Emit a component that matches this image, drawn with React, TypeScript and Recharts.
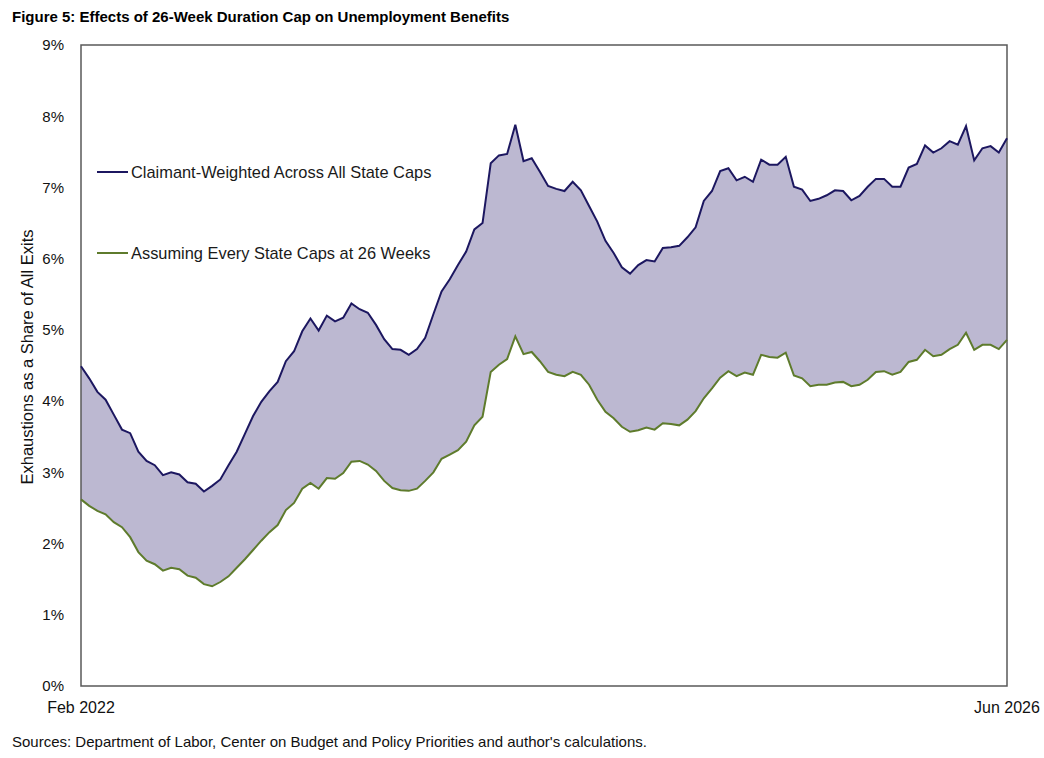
import React from "react";
import {
  ComposedChart,
  Area,
  Line,
  XAxis,
  YAxis,
  ReferenceArea,
  Legend,
} from "recharts";

// Biweekly readings, Feb 2022 through Jun 2026 (percent of all exits)
const claimantWeighted = [
  4.49, 4.32, 4.13, 4.02, 3.81, 3.6, 3.55, 3.29, 3.16, 3.1,
  2.96, 3.0, 2.97, 2.86, 2.84, 2.73, 2.81, 2.9, 3.1, 3.29,
  3.54, 3.79, 3.99, 4.14, 4.27, 4.56, 4.7, 4.98, 5.16, 4.99,
  5.2, 5.12, 5.17, 5.37, 5.29, 5.24, 5.07, 4.87, 4.73, 4.72,
  4.65, 4.73, 4.89, 5.22, 5.54, 5.71, 5.91, 6.1, 6.41, 6.5,
  7.34, 7.45, 7.47, 7.88, 7.37, 7.41, 7.22, 7.02, 6.98, 6.95,
  7.08, 6.96, 6.74, 6.52, 6.25, 6.08, 5.88, 5.79, 5.91, 5.98,
  5.96, 6.15, 6.16, 6.18, 6.3, 6.44, 6.81, 6.95, 7.23, 7.27,
  7.1, 7.15, 7.08, 7.39, 7.32, 7.32, 7.43, 7.01, 6.97, 6.81,
  6.84, 6.89, 6.96, 6.95, 6.82, 6.88, 7.01, 7.12, 7.12, 7.01,
  7.01, 7.28, 7.33, 7.59, 7.49, 7.55, 7.65, 7.6, 7.86, 7.38,
  7.55, 7.58, 7.49, 7.69,
];

const cap26Weeks = [
  2.62, 2.53, 2.46, 2.41, 2.3, 2.23, 2.09, 1.88, 1.76, 1.71,
  1.62, 1.66, 1.64, 1.55, 1.52, 1.43, 1.4, 1.46, 1.54, 1.66,
  1.78, 1.91, 2.04, 2.16, 2.26, 2.47, 2.57, 2.77, 2.85, 2.77,
  2.92, 2.91, 2.99, 3.15, 3.16, 3.11, 3.02, 2.88, 2.78, 2.75,
  2.74, 2.77, 2.88, 3.0, 3.19, 3.25, 3.31, 3.43, 3.66, 3.78,
  4.41, 4.51, 4.59, 4.91, 4.66, 4.69, 4.56, 4.41, 4.37, 4.35,
  4.41, 4.37, 4.23, 4.02, 3.85, 3.76, 3.64, 3.57, 3.59, 3.63,
  3.6, 3.69, 3.68, 3.66, 3.74, 3.86, 4.04, 4.18, 4.33, 4.42,
  4.35, 4.4, 4.37, 4.65, 4.62, 4.61, 4.68, 4.36, 4.32, 4.21,
  4.23, 4.23, 4.26, 4.27, 4.21, 4.23, 4.3, 4.41, 4.42, 4.37,
  4.41, 4.55, 4.58, 4.72, 4.63, 4.65, 4.73, 4.79, 4.96, 4.72,
  4.79, 4.79, 4.73, 4.86,
];

const xTickLabels = ["Feb 2022", "Jun 2026"];
const yTicks = [0, 1, 2, 3, 4, 5, 6, 7, 8, 9];

const seriesNames = [
  "Claimant-Weighted Across All State Caps",
  "Assuming Every State Caps at 26 Weeks",
];

const NAVY = "#1c1760";
const OLIVE = "#5e7b2c";
const BAND = "#bcb8d1";

const FONT = "'Liberation Sans', Arial, sans-serif";

const lastIdx = claimantWeighted.length - 1;

const rows = claimantWeighted.map((hi, i) => ({
  period: i,
  hi,
  lo: cap26Weeks[i],
}));

function LegendBox() {
  const colors = [NAVY, OLIVE];
  return (
    <div style={{ position: "relative", width: 380, height: 100 }}>
      {seriesNames.map((name, i) => (
        <div
          key={name}
          style={{
            position: "absolute",
            left: 0,
            top: i * 81,
            display: "flex",
            alignItems: "center",
            fontFamily: FONT,
            fontSize: 16.4,
            lineHeight: "18px",
            color: "#1a1a1a",
            whiteSpace: "nowrap",
          }}
        >
          <span style={{ display: "inline-block", width: 31, height: 2, background: colors[i], marginRight: 3 }} />
          {name}
        </div>
      ))}
    </div>
  );
}

export default function App() {
  return (
    <div style={{ position: "absolute", left: 0, top: 0, width: 1044, height: 758, background: "#fff" }}>
      <div
        style={{
          position: "absolute",
          left: 12,
          top: 8,
          fontFamily: FONT,
          fontWeight: 700,
          fontSize: 15,
          color: "#000",
          whiteSpace: "nowrap",
        }}
      >
        Figure 5: Effects of 26-Week Duration Cap on Unemployment Benefits
      </div>

      <ComposedChart
        width={1044}
        height={758}
        data={rows}
        margin={{ top: 45, right: 37, bottom: 42, left: 21 }}
        style={{ position: "absolute", left: 0, top: 0 }}
      >
        <XAxis
          dataKey="period"
          type="number"
          domain={[0, lastIdx]}
          ticks={[0, lastIdx]}
          tickFormatter={(v: number) => (v === 0 ? xTickLabels[0] : xTickLabels[1])}
          tick={{ fontSize: 16, fill: "#111", fontFamily: FONT }}
          tickLine={false}
          axisLine={false}
          tickMargin={10}
          height={30}
          interval={0}
        />
        <YAxis
          type="number"
          domain={[0, 9]}
          ticks={yTicks}
          tickFormatter={(v: number) => `${v}%`}
          tick={{ fontSize: 15, fill: "#111", fontFamily: FONT }}
          tickLine={false}
          axisLine={false}
          tickMargin={11}
          width={60}
          interval={0}
        />
        <Area
          type="linear"
          dataKey={(d: any) => [d.lo, d.hi]}
          fill={BAND}
          fillOpacity={1}
          stroke="none"
          isAnimationActive={false}
          legendType="none"
        />
        <Line type="linear" dataKey="hi" stroke={NAVY} strokeWidth={2} dot={false} isAnimationActive={false} />
        <Line type="linear" dataKey="lo" stroke={OLIVE} strokeWidth={2} dot={false} isAnimationActive={false} />
        <ReferenceArea
          x1={0}
          x2={lastIdx}
          y1={0}
          y2={9}
          fill="none"
          stroke="#595959"
          strokeWidth={1.5}
          ifOverflow="visible"
        />
        <Legend
          layout="horizontal"
          verticalAlign="middle"
          align="center"
          content={() => <LegendBox />}
          wrapperStyle={{ position: "absolute", left: 97, top: 163, width: 380 }}
        />
      </ComposedChart>

      <div
        style={{
          position: "absolute",
          left: 27,
          top: 357,
          transform: "translate(-50%, -50%) rotate(-90deg)",
          fontFamily: FONT,
          fontSize: 16.5,
          color: "#111",
          whiteSpace: "nowrap",
        }}
      >
        Exhaustions as a Share of All Exits
      </div>

      <div
        style={{
          position: "absolute",
          left: 12,
          top: 733,
          fontFamily: FONT,
          fontSize: 15,
          color: "#111",
          whiteSpace: "nowrap",
        }}
      >
        Sources: Department of Labor, Center on Budget and Policy Priorities and author's calculations.
      </div>
    </div>
  );
}
